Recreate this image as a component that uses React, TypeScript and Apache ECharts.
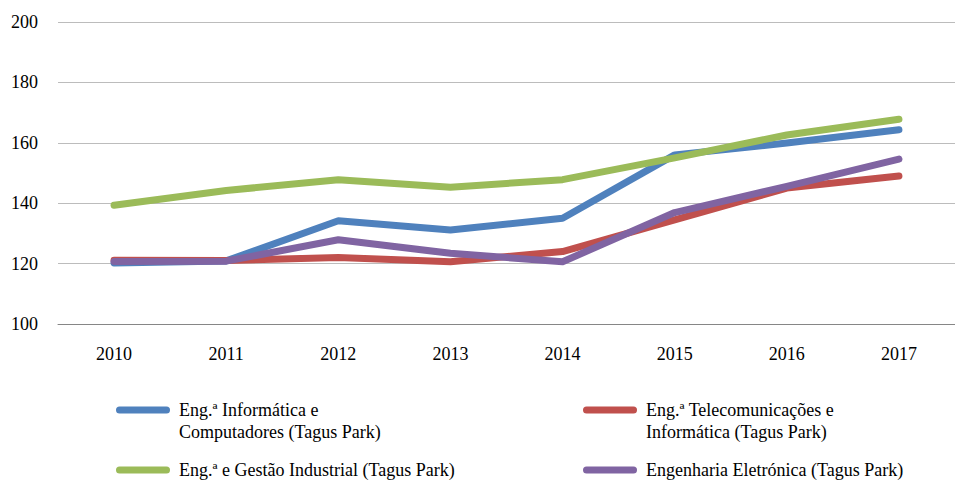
import React, { useEffect, useRef } from "react";
import * as echarts from "echarts";

const years = ["2010", "2011", "2012", "2013", "2014", "2015", "2016", "2017"];
const nameBlue = "Eng.ª Informática e Computadores (Tagus Park)";
const nameRed = "Eng.ª Telecomunicações e Informática (Tagus Park)";
const nameGreen = "Eng.ª e Gestão Industrial (Tagus Park)";
const namePurple = "Engenharia Eletrónica (Tagus Park)";
const blueValues = [120.2, 120.9, 134.2, 131.1, 135.0, 156.0, 159.9, 164.3];
const redValues = [121.1, 121.0, 122.0, 120.6, 124.0, 134.5, 145.0, 149.0];
const greenValues = [139.3, 144.2, 147.8, 145.3, 147.8, 155.0, 162.6, 167.8];
const purpleValues = [120.7, 120.8, 127.9, 123.4, 120.6, 136.9, 145.6, 154.6];
const yTicks = { min: 100, max: 200, interval: 20 };

const FONT = "serif";
const ICON = "path://M3.5,0 H50.5 A3.5,3.5 0 0 1 50.5,7 H3.5 A3.5,3.5 0 0 1 3.5,0 Z";

function twoLine(name: string): string {
  if (name === nameBlue) return "\nEng.ª Informática e\nComputadores (Tagus Park)";
  if (name === nameRed) return "\nEng.ª Telecomunicações e\nInformática (Tagus Park)";
  return name;
}

function makeLegend(name: string, left: number, top: number) {
  return {
    data: [name],
    left,
    top,
    padding: 0,
    orient: "vertical",
    itemWidth: 54,
    itemHeight: 7,
    icon: ICON,
    formatter: (n: string) => twoLine(n),
    textStyle: {
      fontFamily: FONT,
      fontSize: 18,
      color: "#000",
      lineHeight: 22,
      padding: [0, 0, 0, 4],
    },
  };
}

export default function App() {
  const ref = useRef<HTMLDivElement>(null);
  useEffect(() => {
    if (!ref.current) return;
    const chart = echarts.init(ref.current, undefined, { renderer: "svg" });
    const mk = (name: string, data: number[], color: string) => ({
      name,
      type: "line",
      data,
      symbol: "none",
      color,
      lineStyle: { width: 7, color, cap: "round", join: "round" },
    });
    chart.setOption({
      animation: false,
      textStyle: { fontFamily: FONT },
      grid: { left: 58, right: -16, top: 22, bottom: 157 },
      xAxis: {
        type: "category",
        data: years,
        boundaryGap: true,
        axisTick: { show: false },
        axisLine: { lineStyle: { color: "#868686", width: 1 } },
        axisLabel: { fontFamily: FONT, fontSize: 18, color: "#000", margin: 21 },
      },
      yAxis: {
        type: "value",
        min: yTicks.min,
        max: yTicks.max,
        interval: yTicks.interval,
        axisLine: { show: false },
        axisTick: { show: false },
        axisLabel: { fontFamily: FONT, fontSize: 18, color: "#000", margin: 20 },
        splitLine: { lineStyle: { color: "#bcbcbc", width: 1 } },
      },
      legend: [
        makeLegend(nameBlue, 116, 377),
        makeLegend(nameRed, 583, 377),
        makeLegend(nameGreen, 116, 459),
        makeLegend(namePurple, 583, 459),
      ],
      series: [
        mk(nameBlue, blueValues, "#4F81BD"),
        mk(nameRed, redValues, "#C0504D"),
        mk(nameGreen, greenValues, "#9BBB59"),
        mk(namePurple, purpleValues, "#8064A2"),
      ],
    });
    return () => chart.dispose();
  }, []);
  return (
    <div
      ref={ref}
      style={{ position: "absolute", left: 0, top: 0, width: 955, height: 481 }}
    />
  );
}
